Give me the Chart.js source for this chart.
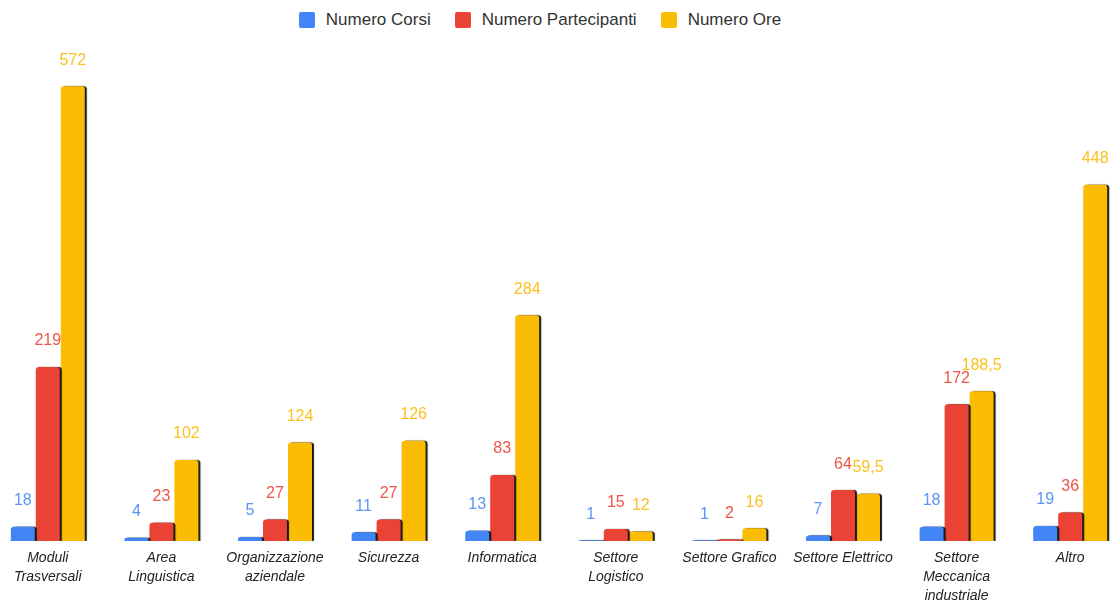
<!DOCTYPE html>
<html lang="it">
<head>
<meta charset="utf-8">
<title>Corsi, partecipanti e ore per area</title>
<script src="https://cdn.jsdelivr.net/npm/chart.js@4.4.1/dist/chart.umd.min.js"></script>
<style>
    html, body { margin: 0; padding: 0; background: #fff; overflow: hidden; }
    body { width: 1116px; height: 602px; position: relative; }
    #legend {
        position: absolute; top: 0; left: 0; width: 1080px; height: 40px;
        display: flex; justify-content: center; align-items: center;
        font-family: "Liberation Sans", Arial, sans-serif; font-size: 17px; color: #333;
    }
    #legend .item { display: flex; align-items: center; margin: 0 12px; }
    #legend .box { width: 16px; height: 16px; border-radius: 2px; margin-right: 11px; }
    #chart { position: absolute; left: -9px; top: 0; }
</style>
</head>
<body>
<div id="legend"></div>
<canvas id="chart" width="1136" height="602"></canvas>
<script>
const categories = [
    ['Moduli', 'Trasversali'],
    ['Area', 'Linguistica'],
    ['Organizzazione', 'aziendale'],
    'Sicurezza',
    'Informatica',
    ['Settore', 'Logistico'],
    'Settore Grafico',
    'Settore Elettrico',
    ['Settore', 'Meccanica', 'industriale'],
    'Altro'
];
const numeroCorsi = [18, 4, 5, 11, 13, 1, 1, 7, 18, 19];
const numeroPartecipanti = [219, 23, 27, 27, 83, 15, 2, 64, 172, 36];
const numeroOre = [572, 102, 124, 126, 284, 12, 16, 59.5, 188.5, 448];

const barColors = ['#4285f4', '#ea4335', '#fbbc04'];
const labelColors = ['#5b95f5', '#ee5548', '#fbc021'];

// italian decimal comma
function formatValue(v) {
    return String(v).replace('.', ',');
}

// dark drop shadow under the bars, then value labels on top
const barShadowAndLabels = {
    id: 'barShadowAndLabels',
    beforeDatasetsDraw(chart) {
        const ctx = chart.ctx;
        ctx.save();
        ctx.shadowColor = 'rgba(10, 10, 10, 0.95)';
        ctx.shadowBlur = 1;
        ctx.shadowOffsetX = 2;
        ctx.shadowOffsetY = 0;
    },
    afterDatasetsDraw(chart) {
        const ctx = chart.ctx;
        ctx.restore();
        ctx.save();
        ctx.font = '16px "Liberation Sans", Arial, sans-serif';
        ctx.textAlign = 'center';
        ctx.textBaseline = 'middle';
        chart.data.datasets.forEach((ds, i) => {
            const meta = chart.getDatasetMeta(i);
            ctx.fillStyle = labelColors[i];
            meta.data.forEach((bar, j) => {
                ctx.fillText(formatValue(ds.data[j]), bar.x, bar.y - 26);
            });
        });
        ctx.restore();
    }
};

const chart = new Chart(document.getElementById('chart'), {
    type: 'bar',
    data: {
        labels: categories,
        datasets: [
            { label: 'Numero Corsi', data: numeroCorsi, backgroundColor: barColors[0] },
            { label: 'Numero Partecipanti', data: numeroPartecipanti, backgroundColor: barColors[1] },
            { label: 'Numero Ore', data: numeroOre, backgroundColor: barColors[2] }
        ]
    },
    options: {
        responsive: false,
        animation: false,
        layout: { padding: { top: 64, left: 0, right: 0, bottom: 0 } },
        datasets: {
            bar: {
                categoryPercentage: 0.66,
                barPercentage: 0.96,
                borderRadius: 3,
                borderSkipped: 'start'
            }
        },
        plugins: {
            legend: { display: false },
            tooltip: { enabled: false }
        },
        scales: {
            x: {
                grid: { display: false, drawTicks: false },
                border: { display: false },
                ticks: {
                    autoSkip: false,
                    maxRotation: 0,
                    minRotation: 0,
                    padding: 8,
                    color: '#222',
                    font: { family: '"Liberation Sans", Arial, sans-serif', size: 14, style: 'italic', lineHeight: 1.35 }
                },
                afterFit(scale) { scale.height = 61; }
            },
            y: {
                display: false,
                beginAtZero: true,
                min: 0,
                max: 600
            }
        }
    },
    plugins: [barShadowAndLabels]
});

// legend built from the chart's datasets
const legendEl = document.getElementById('legend');
chart.data.datasets.forEach(ds => {
    const item = document.createElement('div');
    item.className = 'item';
    const box = document.createElement('span');
    box.className = 'box';
    box.style.background = ds.backgroundColor;
    const text = document.createElement('span');
    text.textContent = ds.label;
    item.appendChild(box);
    item.appendChild(text);
    legendEl.appendChild(item);
});
</script>
</body>
</html>
